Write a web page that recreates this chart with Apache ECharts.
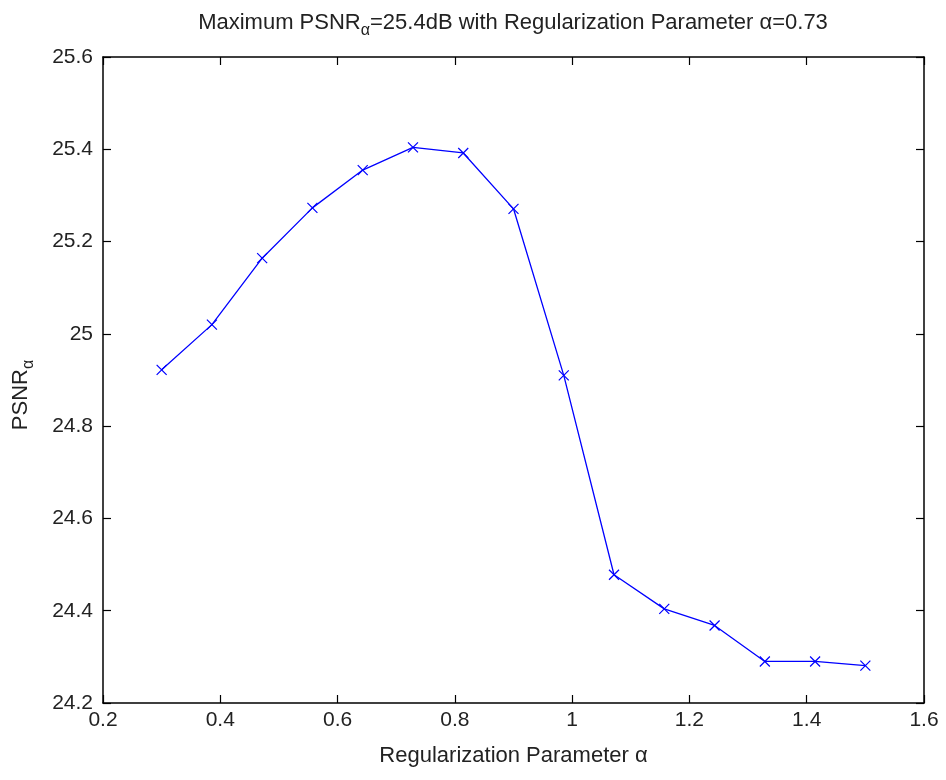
<!DOCTYPE html>
<html>
<head>
<meta charset="utf-8">
<script src="https://cdn.jsdelivr.net/npm/echarts@6/dist/echarts.min.js"></script>
<style>
  html, body { margin: 0; padding: 0; background: #fff; }
  #psnr-chart { width: 946px; height: 780px; }
</style>
</head>
<body>
<div id="psnr-chart"></div>
<script>
// regularization parameter alpha (x) and PSNR values (y)
const alphaValues = [0.3, 0.3857, 0.4714, 0.5571, 0.6429, 0.7286, 0.8143, 0.9,
  0.9857, 1.0714, 1.1571, 1.2429, 1.3286, 1.4143, 1.5];
const psnrValues = [24.922, 25.020, 25.164, 25.273, 25.355, 25.404, 25.392, 25.271,
  24.910, 24.478, 24.404, 24.368, 24.290, 24.290, 24.281];

const xTicks = { min: 0.2, max: 1.6, interval: 0.2 };
const yTicks = { min: 24.2, max: 25.6, interval: 0.2 };

const chartDom = document.getElementById('psnr-chart');
const myChart = echarts.init(chartDom);

const font = "'Liberation Sans', Arial, sans-serif";
const axisLine = { show: true, lineStyle: { color: '#000', width: 1.5 } };
const tickIn = { show: true, inside: true, length: 8, lineStyle: { color: '#000', width: 1.2 } };
const labelStyle = { color: '#222', fontSize: 21, fontFamily: font };

const option = {
  backgroundColor: '#fff',
  animation: false,
  title: {
    text: '{a|Maximum PSNR}{s|α}{a|=25.4dB with Regularization Parameter α=0.73}',
    left: 508,
    textAlign: 'center',
    top: 2,
    textStyle: {
      fontWeight: 'normal',
      rich: {
        a: { fontSize: 22, color: '#222', fontFamily: font, fontWeight: 'normal' },
        s: { fontSize: 16, color: '#222', fontFamily: font, fontWeight: 'normal', padding: [16, 0, 0, 0] }
      }
    }
  },
  grid: { left: 103, right: 22, top: 57, bottom: 77, outerBoundsMode: 'none' },
  xAxis: [
    {
      type: 'value',
      min: xTicks.min, max: xTicks.max, interval: xTicks.interval,
      name: 'Regularization Parameter α',
      nameLocation: 'middle',
      nameGap: 42,
      nameTextStyle: { fontSize: 22, color: '#222', fontFamily: font },
      axisLine: axisLine,
      axisTick: tickIn,
      axisLabel: Object.assign({ margin: 7 }, labelStyle),
      splitLine: { show: false }
    },
    {
      type: 'value', position: 'top',
      min: xTicks.min, max: xTicks.max, interval: xTicks.interval,
      axisLine: axisLine, axisTick: tickIn,
      axisLabel: { show: false }, splitLine: { show: false }
    }
  ],
  yAxis: [
    {
      type: 'value',
      min: yTicks.min, max: yTicks.max, interval: yTicks.interval,
      name: '{a|PSNR}{s|α}',
      nameLocation: 'middle',
      nameGap: 66,
      nameTextStyle: {
        padding: [0, 30, 0, 0],
        rich: {
          a: { fontSize: 22, color: '#222', fontFamily: font },
          s: { fontSize: 16, color: '#222', fontFamily: font, padding: [16, 0, 0, 0] }
        }
      },
      axisLine: axisLine,
      axisTick: tickIn,
      axisLabel: Object.assign({ margin: 10 }, labelStyle),
      splitLine: { show: false }
    },
    {
      type: 'value', position: 'right',
      min: yTicks.min, max: yTicks.max, interval: yTicks.interval,
      axisLine: axisLine, axisTick: tickIn,
      axisLabel: { show: false }, splitLine: { show: false }
    }
  ],
  series: [
    {
      type: 'line',
      data: alphaValues.map((a, i) => [a, psnrValues[i]]),
      symbol: 'path://M0,0L10,10M10,0L0,10',
      symbolSize: 10,
      lineStyle: { color: '#0000ff', width: 1.3 },
      itemStyle: { color: '#0000ff', borderColor: '#0000ff', borderWidth: 1.2 }
    }
  ]
};

option && myChart.setOption(option);
</script>
</body>
</html>
